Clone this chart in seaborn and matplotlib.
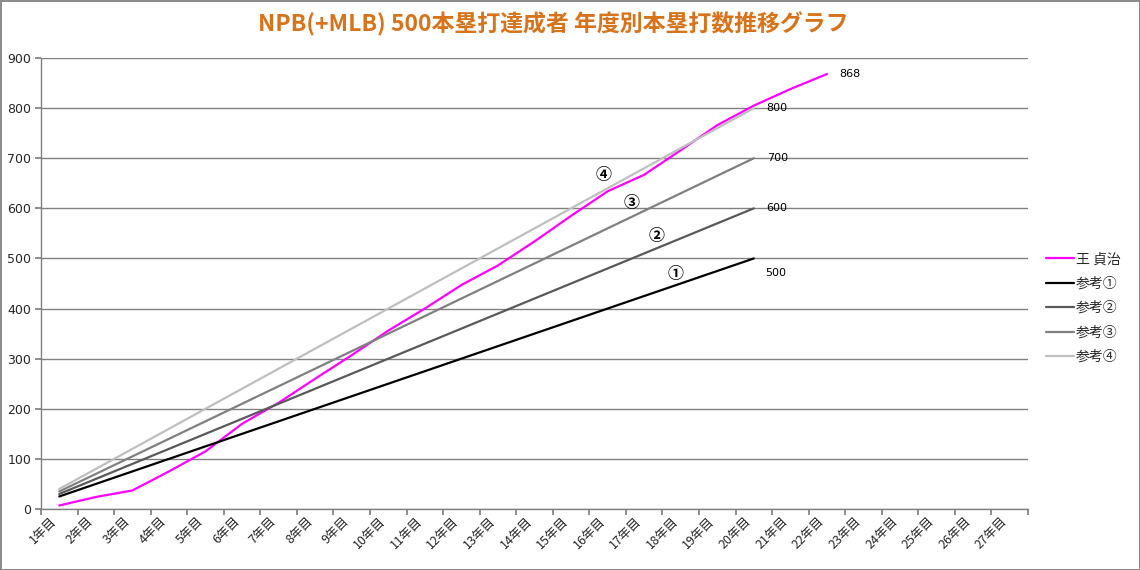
import pandas as pd
import seaborn as sns
import matplotlib.pyplot as plt

# categories on the x axis (27 seasons)
years = [f'{i}年目' for i in range(1, 28)]

# cumulative home runs, Sadaharu Oh
oh_hr = [7, 24, 37, 75, 115, 170, 212, 260, 307, 356, 400, 447,
         486, 534, 585, 634, 667, 716, 766, 805, 838, 868]

# reference pace lines
ref1 = [25, 50, 75, 100, 125, 150, 175, 200, 225, 250,
        275, 300, 325, 350, 375, 400, 425, 450, 475, 500]
ref2 = [30, 60, 90, 120, 150, 180, 210, 240, 270, 300,
        330, 360, 390, 420, 450, 480, 510, 540, 570, 600]
ref3 = [35, 70, 105, 140, 175, 210, 245, 280, 315, 350,
        385, 420, 455, 490, 525, 560, 595, 630, 665, 700]
ref4 = [40, 80, 120, 160, 200, 240, 280, 320, 360, 400,
        440, 480, 520, 560, 600, 640, 680, 720, 760, 800]

series_names = ['王 貞治', '参考①', '参考②', '参考③', '参考④']
series_values = [oh_hr, ref1, ref2, ref3, ref4]
colors = ['#FF00FF', '#000000', '#595959', '#808080', '#BFBFBF']
marks = ['④', '③', '②', '①']
mark_pos = [(14.9, 667), (15.66, 611), (16.34, 545), (16.86, 469)]

rows = []
for name, vals in zip(series_names, series_values):
    for i, v in enumerate(vals):
        rows.append({'idx': i, 'hr': v, 'series': name})
df = pd.DataFrame(rows)

sns.set_theme(style='white')
plt.rcParams['font.family'] = ['Noto Sans CJK JP', 'DejaVu Sans']

fig = plt.figure(figsize=(11.4, 5.7), dpi=100)
fig.patch.set_edgecolor('#8c8c8c')
fig.patch.set_linewidth(2)
ax = fig.add_axes([41 / 1140, 1 - 509 / 570, (1028 - 41) / 1140, (509 - 58) / 570])

sns.lineplot(data=df, x='idx', y='hr', hue='series', hue_order=series_names,
             palette=colors, linewidth=1.6, ax=ax, legend=True)

ax.set_xlim(-0.5, 26.5)
ax.set_ylim(0, 900)
ax.set_yticks(range(0, 901, 100))
ax.yaxis.grid(True, color='#808080', linewidth=1)
ax.set_axisbelow(True)
ax.tick_params(axis='y', labelsize=9, length=4, direction='out', color='#808080', left=True, pad=3)
for t in ax.get_yticklabels():
    t.set_family('DejaVu Sans')

# category boundaries as major ticks, labels at centres
ax.set_xticks([i - 0.5 for i in range(28)])
ax.set_xticklabels([])
ax.set_xticks(range(27), minor=True)
ax.set_xticklabels(years, minor=True, rotation=45, ha='right', fontsize=9)
ax.tick_params(axis='x', which='major', length=4, direction='out', color='#808080', bottom=True)
ax.tick_params(axis='x', which='minor', length=0, pad=4)
ax.set_xlabel('')
ax.set_ylabel('')

for side in ['top', 'right']:
    ax.spines[side].set_visible(False)
for side in ['left', 'bottom']:
    ax.spines[side].set_color('#808080')
    ax.spines[side].set_linewidth(1)

# value labels at line ends
for name, vals in zip(series_names, series_values):
    last = len(vals) - 1
    dx = 0.3 if name == '参考①' else 0.35
    dy = -30 if name == '参考①' else 0
    ax.text(last + dx, vals[-1] + dy, str(vals[-1]), fontsize=8, family='DejaVu Sans',
            ha='left', va='center', color='black')

for m, (mx, my) in zip(marks, mark_pos):
    ax.text(mx, my, m, fontsize=11.5, fontweight='bold', ha='center', va='center', color='black')

ax.get_legend().remove()
handles, labels = ax.get_legend_handles_labels()
fig.legend(handles, labels, loc='center left', bbox_to_anchor=(1046 / 1140, 1 - 308 / 570),
           frameon=False, fontsize=10, handlelength=2.0, handletextpad=0.15,
           labelspacing=0.75, borderpad=0, borderaxespad=0)

fig.text(553 / 1140, 1 - 24 / 570, 'NPB(+MLB) 500本塁打達成者 年度別本塁打数推移グラフ',
         ha='center', va='center', fontsize=16.5, fontweight='bold', color='#D9731A')

fig.savefig('out.png', dpi=100)
